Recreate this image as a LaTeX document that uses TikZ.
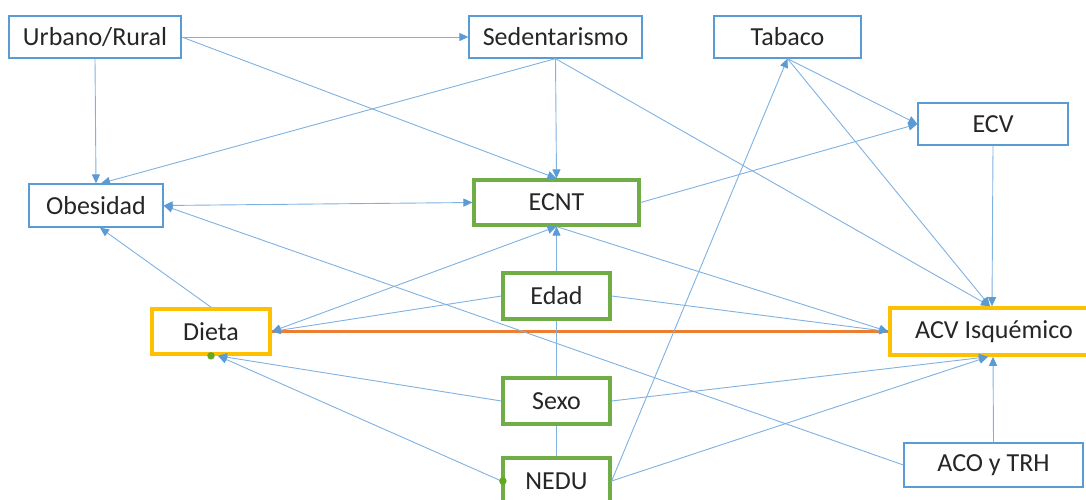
\documentclass[tikz,border=0pt]{standalone}
\usepackage{fontspec}
\setmainfont{Carlito}
\usetikzlibrary{arrows.meta}
\definecolor{edgeblue}{RGB}{91,155,213}
\definecolor{lineblue}{RGB}{128,178,225}
\definecolor{grn}{RGB}{112,173,71}
\definecolor{ylw}{RGB}{255,192,0}
\definecolor{orng}{RGB}{237,125,49}
\definecolor{dotgrn}{RGB}{100,168,32}

\begin{document}
\begin{tikzpicture}[x=1pt,y=-1pt,
  box/.style={draw=edgeblue,line width=1.3pt,fill=white,inner sep=0pt,
    font=\fontsize{26}{31}\selectfont,text=black!85},
  gbox/.style={box,draw=grn,line width=3.2pt},
  ybox/.style={box,draw=ylw,line width=3.6pt},
  link/.style={draw=lineblue,line width=0.9pt},
  tip/.style={Triangle[length=9pt,width=8pt,fill=edgeblue,color=edgeblue]},
  arr/.style={link,-{Triangle[length=9pt,width=8pt,fill=edgeblue,color=edgeblue]}},
  biarr/.style={link,{Triangle[length=9pt,width=8pt,fill=edgeblue,color=edgeblue]}-{Triangle[length=9pt,width=8pt,fill=edgeblue,color=edgeblue]}},
  dot/.style={circle,fill=dotgrn,inner sep=0pt,minimum size=7.5pt}
]
\useasboundingbox (0,0) rectangle (1086,500);
\clip (0,0) rectangle (1086,500);
\fill[white] (0,0) rectangle (1086,500);

% variables
\node[box,minimum width=172pt,minimum height=42pt] (urb) at (95,37) {Urbano/Rural};
\node[box,minimum width=173pt,minimum height=42pt] (sed) at (555.5,37) {Sedentarismo};
\node[box,minimum width=147pt,minimum height=42pt] (tab) at (787.5,37) {Tabaco};
\node[box,minimum width=150pt,minimum height=42pt] (ecv) at (993,124) {ECV};
\node[box,minimum width=134pt,minimum height=43pt] (obe) at (96,205.5) {Obesidad};
\node[gbox,minimum width=165pt,minimum height=45pt] (ecnt) at (556.5,202.5) {ECNT};
\node[gbox,minimum width=107pt,minimum height=46pt] (edad) at (556.5,296) {Edad};
\node[gbox,minimum width=107pt,minimum height=46pt] (sexo) at (556.5,401) {Sexo};
\node[gbox,minimum width=107pt,minimum height=46pt] (nedu) at (556.5,481) {NEDU};
\node[ybox,minimum width=118pt,minimum height=45pt] (dieta) at (211,331.5) {Dieta};
\node[ybox,minimum width=208pt,minimum height=47pt] (acv) at (994,331.5) {ACV Isquémico};
\node[box,minimum width=179pt,minimum height=44pt] (aco) at (993.5,465) {ACO y TRH};

% exposure to outcome
\draw[orng,line width=2.4pt] (dieta.east) -- (acv.west);

% connectors
\draw[arr] (urb.east) -- (sed.west);
\draw[arr] (urb.east) -- (ecnt.north);
\draw[arr] (urb.south) -- (obe.north);
\draw[arr] (sed.south) -- ([xshift=5pt]obe.north);
\draw[arr] (sed.south) -- (ecnt.north);
\draw[arr] (sed.south) -- ([xshift=-4pt]acv.north);
\draw[biarr] (obe.east) -- (ecnt.west);
\draw[arr] (ecnt.east) -- (ecv.west);
\draw[arr] (tab.south) -- (ecv.west);
\draw[arr] (tab.south) -- ([xshift=-4pt]acv.north);
\draw[arr] (ecv.south) -- ([xshift=-2pt]acv.north);
\draw[arr] (nedu.east) -- (tab.south);
\draw[arr] (edad.north) -- (ecnt.south);
\draw[biarr] (dieta.east) -- (ecnt.south);
\draw[arr] (ecnt.south) -- (acv.west);
\draw[arr] (edad.west) -- (dieta.east);
\draw[arr] (edad.east) -- (acv.west);
\draw[arr] (dieta.north) -- ([xshift=4pt]obe.south);
\draw[arr] (sexo.west) -- ([xshift=7pt]dieta.south);
\draw[arr] (nedu.west) -- ([xshift=7pt]dieta.south);
\draw[arr] (sexo.east) -- ([xshift=-6pt]acv.south);
\draw[arr] (nedu.east) -- ([xshift=-6pt]acv.south);
\draw[arr] (aco.north) -- ([xshift=-1pt]acv.south);
\draw[arr] (aco.west) -- (obe.east);
\draw[link] (edad.south) -- (sexo.north);
\draw[link] (sexo.south) -- (nedu.north);

% connection points
\node[dot] (d1) at (dieta.south) {};
\node[dot] (d2) at ([xshift=1.5pt]nedu.west) {};
\end{tikzpicture}
\end{document}
